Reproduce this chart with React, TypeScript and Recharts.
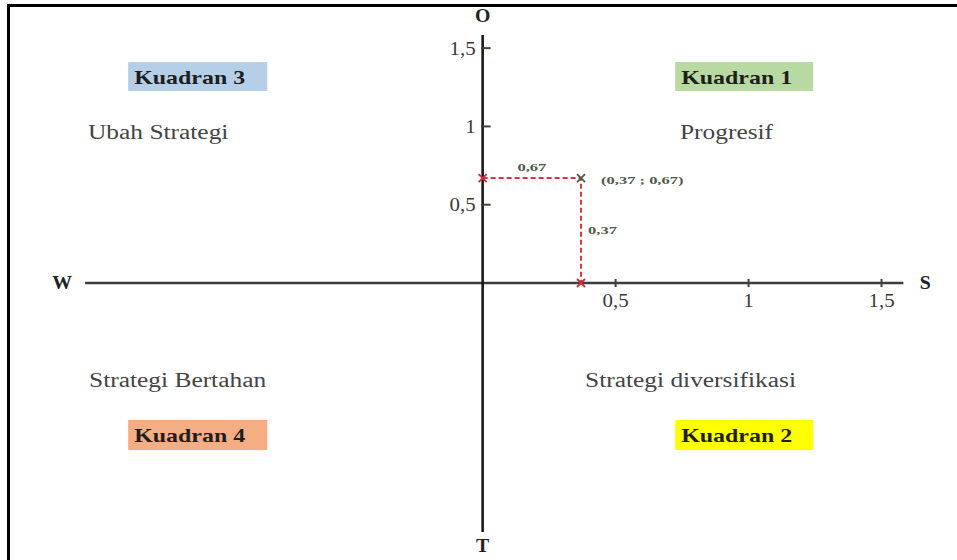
import React from 'react';
import { ScatterChart, Scatter, XAxis, YAxis, ReferenceLine, ReferenceDot, ReferenceArea } from 'recharts';

const pointX = [0.37];
const pointY = [0.67];
const xTickValues = [0.5, 1, 1.5];
const xTickLabels = ['0,5', '1', '1,5'];
const yTickValues = [0.5, 1, 1.5];
const yTickLabels = ['0,5', '1', '1,5'];
const quadrantNames = ['Kuadran 1', 'Kuadran 2', 'Kuadran 3', 'Kuadran 4'];
const quadrantStrategies = ['Progresif', 'Strategi diversifikasi', 'Ubah Strategi', 'Strategi Bertahan'];
const quadrantColors = ['#b9d9a3', '#ffff00', '#b5cfe8', '#f5ad83'];
const axisLetters = ['O', 'S', 'T', 'W'];

const SERIF = '"Liberation Serif", "DejaVu Serif", serif';

const fmt = (v: number) => v.toFixed(2).replace('.', ',');

const px = pointX[0];
const py = pointY[0];
const pathData = [
  { x: 0, y: py, mid: false },
  { x: px, y: py, mid: true },
  { x: px, y: 0, mid: false },
];

const XMark = (props: any) => {
  const { cx, cy, payload } = props;
  const s = 4;
  const c = payload && payload.mid ? '#4f5a44' : '#c8303c';
  return (
    <g stroke={c} strokeWidth={1.8}>
      <line x1={cx - s} y1={cy - s} x2={cx + s} y2={cy + s} />
      <line x1={cx - s} y1={cy + s} x2={cx + s} y2={cy - s} />
    </g>
  );
};

type TextOpts = {
  dx?: number;
  dy?: number;
  anchor?: string;
  size?: number;
  weight?: string | number;
  fill?: string;
  sx?: number;
};

const SText = (props: { x: number; y: number; str: string; opts: TextOpts }) => {
  const { x, y, str, opts } = props;
  return (
    <text
      transform={`translate(${x},${y}) scale(${opts.sx || 1},1)`}
      x={0}
      y={0}
      textAnchor={(opts.anchor || 'start') as any}
      dominantBaseline="central"
      fontFamily={SERIF}
      fontSize={opts.size || 18}
      fontWeight={opts.weight || 'normal'}
      fill={opts.fill || '#333'}
    >
      {str}
    </text>
  );
};

const textAt = (key: string, x: number, y: number, str: string, opts: TextOpts) => (
  <ReferenceDot
    key={key}
    x={x}
    y={y}
    r={0}
    ifOverflow="visible"
    shape={(p: any) => <SText x={p.cx + (opts.dx || 0)} y={p.cy + (opts.dy || 0)} str={str} opts={opts} />}
  />
);

const boxArea = (key: string, x1: number, x2: number, y1: number, y2: number, color: string, label: string) => (
  <ReferenceArea
    key={key}
    x1={x1}
    x2={x2}
    y1={y1}
    y2={y2}
    ifOverflow="visible"
    shape={(p: any) => (
      <g>
        <rect x={p.x} y={p.y} width={p.width} height={p.height} fill={color} />
        <SText
          x={p.x + 6}
          y={p.y + p.height / 2 + 1}
          str={label}
          opts={{ size: 18, weight: 'bold', fill: '#1e1e1e', sx: 1.33 }}
        />
      </g>
    )}
  />
);

export default function App() {
  return (
    <div style={{ position: 'absolute', left: 0, top: 0, width: 957, height: 560, overflow: 'hidden', background: '#fff' }}>
      <div
        style={{
          position: 'absolute',
          left: 7,
          top: 4,
          width: 990,
          height: 600,
          border: '3px solid #000',
          boxSizing: 'border-box',
        }}
      />
      <div style={{ position: 'absolute', left: 0, top: 0 }}>
        <ScatterChart width={957} height={560} margin={{ top: 9, right: 9, bottom: 3, left: 4 }}>
          <XAxis type="number" dataKey="x" domain={[-1.8, 1.75]} hide allowDataOverflow />
          <YAxis type="number" dataKey="y" domain={[-1.75, 1.75]} hide allowDataOverflow />

          {boxArea('q3', -1.333, -0.81, 1.226, 1.411, quadrantColors[2], quadrantNames[2])}
          {boxArea('q1', 0.724, 1.243, 1.226, 1.411, quadrantColors[0], quadrantNames[0])}
          {boxArea('q4', -1.333, -0.81, -1.067, -0.875, quadrantColors[3], quadrantNames[3])}
          {boxArea('q2', 0.724, 1.243, -1.067, -0.875, quadrantColors[1], quadrantNames[1])}

          <ReferenceLine
            segment={[{ x: -1.495, y: 0 }, { x: 1.582, y: 0 }]}
            stroke="#3c3c3c"
            strokeWidth={2.6}
            ifOverflow="visible"
          />
          <ReferenceLine
            segment={[{ x: 0, y: -1.59 }, { x: 0, y: 1.584 }]}
            stroke="#1a1a1a"
            strokeWidth={2.6}
            ifOverflow="visible"
          />

          {xTickValues.map((t, i) => (
            <ReferenceLine
              key={'xt' + i}
              segment={[{ x: t, y: -0.026 }, { x: t, y: 0.026 }]}
              stroke="#3b4636"
              strokeWidth={2}
              ifOverflow="visible"
            />
          ))}
          {yTickValues.map((t, i) => (
            <ReferenceLine
              key={'yt' + i}
              segment={[{ x: -0.006, y: t }, { x: 0.03, y: t }]}
              stroke="#3b4636"
              strokeWidth={2}
              ifOverflow="visible"
            />
          ))}
          {xTickValues.map((t, i) =>
            textAt('xl' + i, t, 0, xTickLabels[i], { dy: 17, anchor: 'middle', size: 19, sx: 1.1, fill: '#3a3a3a' })
          )}
          {yTickValues.map((t, i) =>
            textAt('yl' + i, 0, t, yTickLabels[i], { dx: -7, anchor: 'end', size: 19, sx: 1.1, fill: '#3a3a3a' })
          )}

          {textAt('ax0', 0, 1.705, axisLetters[0], { anchor: 'middle', size: 18, weight: 'bold', fill: '#222', sx: 1.1 })}
          {textAt('ax1', 1.664, 0, axisLetters[1], { anchor: 'middle', size: 18, weight: 'bold', fill: '#222', sx: 1.1 })}
          {textAt('ax2', 0, -1.68, axisLetters[2], { anchor: 'middle', size: 18, weight: 'bold', fill: '#222', sx: 1.1 })}
          {textAt('ax3', -1.581, 0, axisLetters[3], { anchor: 'middle', size: 18, weight: 'bold', fill: '#222', sx: 1.1 })}

          {textAt('s1', 0.742, 0.96, quadrantStrategies[0], { size: 20, sx: 1.27, fill: '#444' })}
          {textAt('s2', 0.385, -0.62, quadrantStrategies[1], { size: 20, sx: 1.27, fill: '#444' })}
          {textAt('s3', -1.484, 0.96, quadrantStrategies[2], { size: 20, sx: 1.27, fill: '#444' })}
          {textAt('s4', -1.48, -0.62, quadrantStrategies[3], { size: 20, sx: 1.27, fill: '#444' })}

          <Scatter
            data={pathData}
            isAnimationActive={false}
            line={{ stroke: '#e2323e', strokeWidth: 2, strokeDasharray: '5 3' }}
            lineType="joint"
            shape={<XMark />}
          />

          {textAt('lh', px / 2, py, fmt(py), { dy: -11, anchor: 'middle', size: 11, weight: 'bold', sx: 1.5, fill: '#4d5a48' })}
          {textAt('lv', px, py / 2, fmt(px), { dx: 7, size: 11, weight: 'bold', sx: 1.5, fill: '#4d5a48' })}
          {textAt('lp', px, py, '(' + fmt(px) + ' ; ' + fmt(py) + ')', { dx: 20, dy: 2, size: 11, weight: 'bold', sx: 1.5, fill: '#4d5a48' })}
        </ScatterChart>
      </div>
    </div>
  );
}
